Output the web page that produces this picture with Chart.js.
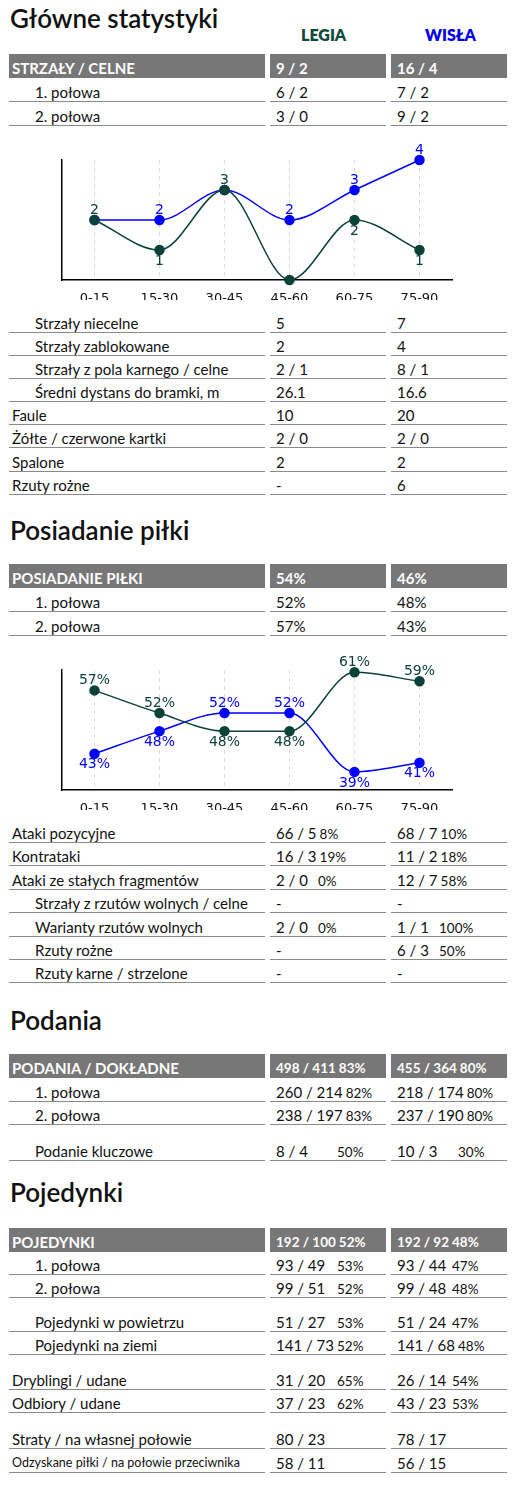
<!DOCTYPE html>
<html><head><meta charset="utf-8">
<script src="https://cdn.jsdelivr.net/npm/chart.js@4"></script>
<style>
body{margin:0;width:528px;height:1511px;background:#fff;font-family:Lato,"Open Sans",sans-serif;color:#111;position:relative;overflow:hidden}
.t{position:absolute;font-size:26px;font-weight:600;left:10px;line-height:30px}
.team{position:absolute;font-size:16px;font-weight:800;line-height:20px}
.c{position:absolute;height:22px;line-height:24px;font-size:15px;border-bottom:1.5px solid #8a8a8a;box-sizing:border-box;white-space:nowrap}
.h{background:#777;color:#fff;font-weight:700;border:none;height:24px;line-height:28px}
.v{display:inline-block}
.p{font-size:13.5px;margin-left:3px}
canvas{position:absolute;left:0}
</style></head><body>
<div id="page"></div>
<div style="position:absolute;left:0;top:140px;width:528px;height:160px"><canvas id="c1"></canvas></div>
<div style="position:absolute;left:0;top:650px;width:528px;height:160px"><canvas id="c2"></canvas></div>
<script>
"use strict";
const periods = ["0-15", "15-30", "30-45", "45-60", "60-75", "75-90"];
const shotsLegia = [2, 1, 3, 0, 2, 1];
const shotsWisla = [2, 2, 3, 2, 3, 4];
const possLegia = [57, 52, 48, 48, 61, 59];
const possWisla = [43, 48, 52, 52, 39, 41];

// [y, label, indent, legia, legiaPct, wisla, wislaPct, kind]
const mainRows = [
  [68, "STRZAŁY / CELNE", 0, "9 / 2", "", "16 / 4", "", "h"],
  [92, "1. połowa", 1, "6 / 2", "", "7 / 2", ""],
  [116, "2. połowa", 1, "3 / 0", "", "9 / 2", ""],
  [323, "Strzały niecelne", 1, "5", "", "7", ""],
  [346, "Strzały zablokowane", 1, "2", "", "4", ""],
  [369, "Strzały z pola karnego / celne", 1, "2 / 1", "", "8 / 1", ""],
  [392, "Średni dystans do bramki, m", 1, "26.1", "", "16.6", ""],
  [415, "Faule", 0, "10", "", "20", ""],
  [438, "Żółte / czerwone kartki", 0, "2 / 0", "", "2 / 0", ""],
  [462, "Spalone", 0, "2", "", "2", ""],
  [485, "Rzuty rożne", 0, "-", "", "6", ""],
];
const possRows = [
  [578, "POSIADANIE PIŁKI", 0, "54%", "", "46%", "", "h"],
  [602, "1. połowa", 1, "52%", "", "48%", ""],
  [626, "2. połowa", 1, "57%", "", "43%", ""],
  [833, "Ataki pozycyjne", 0, "66 / 5", "8%", "68 / 7", "10%"],
  [856, "Kontrataki", 0, "16 / 3", "19%", "11 / 2", "18%"],
  [880, "Ataki ze stałych fragmentów", 0, "2 / 0", "0%", "12 / 7", "58%"],
  [903, "Strzały z rzutów wolnych / celne", 1, "-", "", "-", ""],
  [927, "Warianty rzutów wolnych", 1, "2 / 0", "0%", "1 / 1", "100%"],
  [950, "Rzuty rożne", 1, "-", "", "6 / 3", "50%"],
  [973, "Rzuty karne / strzelone", 1, "-", "", "-", ""],
];
const passRows = [
  [1068, "PODANIA / DOKŁADNE", 0, "498 / 411", "83%", "455 / 364", "80%", "h"],
  [1092, "1. połowa", 1, "260 / 214", "82%", "218 / 174", "80%"],
  [1115, "2. połowa", 1, "238 / 197", "83%", "237 / 190", "80%"],
  [1151, "Podanie kluczowe", 1, "8 / 4", "50%", "10 / 3", "30%"],
];
const duelRows = [
  [1242, "POJEDYNKI", 0, "192 / 100", "52%", "192 / 92", "48%", "h"],
  [1265, "1. połowa", 1, "93 / 49", "53%", "93 / 44", "47%"],
  [1288, "2. połowa", 1, "99 / 51", "52%", "99 / 48", "48%"],
  [1322, "Pojedynki w powietrzu", 1, "51 / 27", "53%", "51 / 24", "47%"],
  [1345, "Pojedynki na ziemi", 1, "141 / 73", "52%", "141 / 68", "48%"],
  [1380, "Dryblingi / udane", 0, "31 / 20", "65%", "26 / 14", "54%"],
  [1403, "Odbiory / udane", 0, "37 / 23", "62%", "43 / 23", "53%"],
  [1439, "Straty / na własnej połowie", 0, "80 / 23", "", "78 / 17", ""],
  [1463, "Odzyskane piłki / na połowie przeciwnika", 0, "58 / 11", "", "56 / 15", "", "s"],
];

const page = document.getElementById("page");
function add(html) { page.insertAdjacentHTML("beforeend", html); }

add('<div class="t" style="top:3px">Główne statystyki</div>');
add('<div class="team" style="left:301px;top:25px;color:#0e4a3e">LEGIA</div>');
add('<div class="team" style="left:425px;top:25px;color:#0000ee">WISŁA</div>');
add('<div class="t" style="top:515px">Posiadanie piłki</div>');
add('<div class="t" style="top:1005px">Podania</div>');
add('<div class="t" style="top:1177px">Pojedynki</div>');

function drawRows(rows, w2, w3) {
  rows.forEach(r => {
    const [y, label, ind, v1, p1, v2, p2, kind] = r;
    const head = kind === "h";
    const cls = head ? "c h" : "c";
    const top = head ? y - 14 : y - 12;
    const lblStyle = kind === "s" ? "font-size:12.5px;" : "";
    const valFs = head && p1 ? "font-size:13.5px;" : "";
    const cell = (v, p, w) => p ? `<span class="v" style="min-width:${w}px">${v}</span><span class="p">${p}</span>` : v;
    add(`<div class="${cls}" style="left:9px;width:256px;top:${top}px;padding-left:${ind ? 26 : 3}px;${lblStyle}">${label}</div>`);
    add(`<div class="${cls}" style="left:270px;width:116px;top:${top}px;padding-left:6px;${valFs}">${cell(v1, p1, w2)}</div>`);
    add(`<div class="${cls}" style="left:391px;width:116px;top:${top}px;padding-left:6px;${valFs}">${cell(v2, p2, w3)}</div>`);
  });
}
drawRows(possRows, 39, 39);
drawRows(mainRows, 0, 0);
drawRows(passRows, 58, 58);
drawRows(duelRows, 58, 52);

const GREEN = "#0b4238", BLUE = "#0000ff";

const labelPlugin = {
  id: "vals",
  afterDatasetsDraw(chart, args, opts) {
    const ctx = chart.ctx;
    ctx.save();
    ctx.font = "14px 'DejaVu Sans'";
    ctx.textAlign = "center";
    [0, 1].forEach(di => {
      const ds = chart.data.datasets[di];
      const other = chart.data.datasets[1 - di];
      chart.getDatasetMeta(di).data.forEach((pt, i) => {
        const v = ds.data[i], o = other.data[i];
        if (v === 0) return;
        if (v === o && di === 1) return;
        const above = v >= o;
        ctx.fillStyle = v === o ? GREEN : ds.borderColor;
        ctx.textBaseline = above ? "bottom" : "top";
        ctx.fillText(v + opts.suffix, pt.x, above ? pt.y - 3 : pt.y + 4);
      });
    });
    ctx.restore();
  }
};

const dashPlugin = {
  id: "dash",
  beforeDatasetsDraw(chart) {
    const { ctx, chartArea } = chart;
    const xs = chart.scales.x;
    ctx.save();
    ctx.strokeStyle = "#dddddd";
    ctx.setLineDash([4, 4]);
    periods.forEach((_, i) => {
      const x = xs.getPixelForValue(i);
      ctx.beginPath(); ctx.moveTo(x, chartArea.top); ctx.lineTo(x, chartArea.bottom); ctx.stroke();
    });
    ctx.restore();
  }
};

function makeChart(id, legia, wisla, min, max, suffix) {
  new Chart(document.getElementById(id), {
    type: "line",
    data: {
      labels: periods,
      datasets: [
        { data: legia, borderColor: GREEN, backgroundColor: GREEN, borderWidth: 1.5, pointRadius: 4.5, cubicInterpolationMode: "monotone", clip: false },
        { data: wisla, borderColor: BLUE, backgroundColor: BLUE, borderWidth: 1.5, pointRadius: 4.5, cubicInterpolationMode: "monotone", clip: false },
      ]
    },
    options: {
      responsive: true, maintainAspectRatio: false, animation: false,
      layout: { padding: { left: 62, right: 76, top: 20, bottom: 0 } },
      plugins: { legend: { display: false }, tooltip: { enabled: false }, vals: { suffix } },
      scales: {
        x: {
          offset: true,
          grid: { display: false },
          border: { color: "#000", width: 1.5 },
          ticks: { color: "#111", font: { family: "DejaVu Sans", size: 13 }, padding: 3 },
          afterFit(s) { s.height = 20; },
        },
        y: {
          min, max,
          grid: { display: false },
          border: { color: "#000", width: 1.5 },
          ticks: { display: false },
          afterFit(s) { s.width = 0; },
        }
      }
    },
    plugins: [labelPlugin, dashPlugin]
  });
}
makeChart("c1", shotsLegia, shotsWisla, 0, 4, "");
makeChart("c2", possLegia, possWisla, 35, 61.5, "%");
</script>
</body></html>
